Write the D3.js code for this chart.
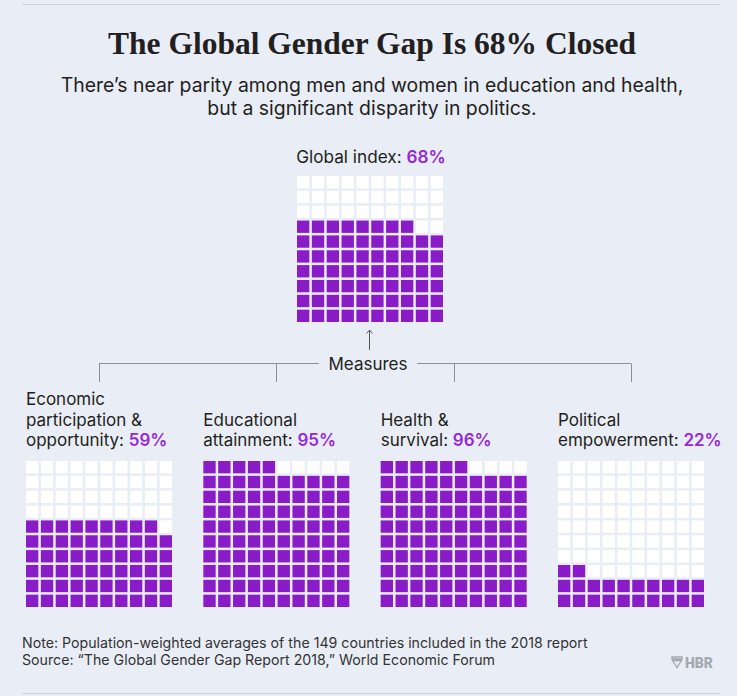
<!DOCTYPE html>
<html>
<head>
<meta charset="utf-8">
<script src="https://cdn.jsdelivr.net/npm/d3@7"></script>
<style>
  html, body { margin: 0; padding: 0; background: #e9edf6; }
  svg { display: block; }
  .sans { font-family: Inter, "Noto Sans", sans-serif; }
</style>
</head>
<body>
<svg id="chart" width="737" height="696"></svg>
<script>
// ---- data ----
const title = "The Global Gender Gap Is 68% Closed";
const subtitleLines = [
  "There\u2019s near parity among men and women in education and health,",
  "but a significant disparity in politics."
];
const globalLabel = "Global index: ";
const globalValue = 68;
const measureLabel = "Measures";
const measureNames = [
  "Economic participation & opportunity",
  "Educational attainment",
  "Health & survival",
  "Political empowerment"
];
const measureLabelLines = [
  ["Economic", "participation &", "opportunity: "],
  ["Educational", "attainment: "],
  ["Health &", "survival: "],
  ["Political", "empowerment: "]
];
const measureValues = [59, 95, 96, 22];
const footnotes = [
  "Note: Population-weighted averages of the 149 countries included in the 2018 report",
  "Source: \u201cThe Global Gender Gap Report 2018,\u201d World Economic Forum"
];

// ---- styles ----
const W = 737, H = 696;
const purple = "#8a1cc8";
const purpleText = "#9529d4";
const empty = "#ffffff";
const ink = "#231f20";
const lineGray = "#8c8f94";

const svg = d3.select("#chart");
svg.append("rect").attr("width", W).attr("height", H).attr("fill", "#e9edf6");

// rules
svg.append("line").attr("x1", 22).attr("x2", 720).attr("y1", 4.5).attr("y2", 4.5)
  .attr("stroke", "#cdd1d8").attr("stroke-width", 1);
svg.append("line").attr("x1", 22).attr("x2", 720).attr("y1", 693.5).attr("y2", 693.5)
  .attr("stroke", "#cdd1d8").attr("stroke-width", 1);

// title
svg.append("text").attr("x", 372).attr("y", 54)
  .attr("text-anchor", "middle")
  .style("font-family", "'Liberation Serif', 'DejaVu Serif', serif")
  .style("font-weight", 700).style("font-size", "31.5px")
  .attr("fill", ink).text(title);

// subtitle
svg.append("g").selectAll("text").data(subtitleLines).join("text")
  .attr("class", "sans")
  .attr("x", 372).attr("y", (d, i) => 92 + i * 23)
  .attr("text-anchor", "middle")
  .style("font-size", "19.4px").attr("fill", ink)
  .text(d => d);

// waffle builder
const gridSize = 146;
const idx = d3.range(10);
const band = d3.scaleBand().domain(idx).range([0, gridSize]).paddingInner(0.17);

function waffle(g, value) {
  const cells = d3.range(100).map(i => ({
    i,
    col: i % 10,
    row: 9 - Math.floor(i / 10),   // fill from the bottom up
    on: i < value
  }));
  g.selectAll("rect").data(cells).join("rect")
    .attr("x", d => band(d.col))
    .attr("y", d => band(d.row))
    .attr("width", band.bandwidth())
    .attr("height", band.bandwidth())
    .attr("fill", d => d.on ? purple : empty);
}

// global index
const gLabel = svg.append("text").attr("class", "sans")
  .attr("x", 371).attr("y", 163).attr("text-anchor", "middle")
  .style("font-size", "17.2px").attr("fill", ink);
gLabel.append("tspan").text(globalLabel);
gLabel.append("tspan").attr("fill", purpleText).style("font-weight", 600).text(globalValue + "%");

waffle(svg.append("g").attr("transform", "translate(297,176)"), globalValue);

// arrow
svg.append("line").attr("x1", 369.5).attr("x2", 369.5).attr("y1", 350).attr("y2", 330)
  .attr("stroke", "#555").attr("stroke-width", 1);
svg.append("path").attr("d", "M366.5,333.5 L369.5,330 L372.5,333.5")
  .attr("fill", "none").attr("stroke", "#555").attr("stroke-width", 1);

// measures bracket
const gridX = d3.scalePoint().domain(measureNames).range([26, 558]);
const centers = measureNames.map(m => gridX(m) + gridSize / 2);
const yBar = 363.5;
svg.append("line").attr("x1", centers[0]).attr("x2", 319).attr("y1", yBar).attr("y2", yBar)
  .attr("stroke", lineGray);
svg.append("line").attr("x1", 417).attr("x2", centers[3]).attr("y1", yBar).attr("y2", yBar)
  .attr("stroke", lineGray);
svg.append("g").selectAll("line").data(centers).join("line")
  .attr("x1", d => Math.round(d) + 0.5).attr("x2", d => Math.round(d) + 0.5)
  .attr("y1", yBar).attr("y2", 382)
  .attr("stroke", lineGray);
svg.append("text").attr("class", "sans")
  .attr("x", 368).attr("y", 369.5).attr("text-anchor", "middle")
  .style("font-size", "17px").attr("fill", ink).text(measureLabel);

// measures
measureNames.forEach((m, k) => {
  const x0 = gridX(m);
  const lines = measureLabelLines[k];
  const t = svg.append("text").attr("class", "sans").style("font-size", "17px").attr("fill", ink);
  lines.forEach((ln, j) => {
    const y = 446 - (lines.length - 1 - j) * 20.5;
    t.append("tspan").attr("x", x0).attr("y", y).text(ln);
    if (j === lines.length - 1) {
      t.append("tspan").attr("fill", purpleText).style("font-weight", 600).text(measureValues[k] + "%");
    }
  });
  waffle(svg.append("g").attr("transform", `translate(${x0},461)`), measureValues[k]);
});

// footnotes
svg.append("g").selectAll("text").data(footnotes).join("text")
  .attr("class", "sans")
  .attr("x", 22).attr("y", (d, i) => 648 + i * 17)
  .style("font-size", "14.2px").attr("fill", "#333333")
  .text(d => d);

// HBR logo
const logo = svg.append("g").attr("transform", "translate(672,657)");
logo.append("path").attr("d", "M0,0 H10 V2 H0 Z M0.5,3.5 H9.5 L5,10.5 Z")
  .attr("fill", "none").attr("stroke", "#a3a9b1").attr("stroke-width", 1.3);
logo.append("text").attr("x", 13).attr("y", 10.5)
  .style("font-family", "Roboto, sans-serif").style("font-weight", 900)
  .style("font-size", "14px").attr("fill", "#a3a9b1").text("HBR");
</script>
</body>
</html>
